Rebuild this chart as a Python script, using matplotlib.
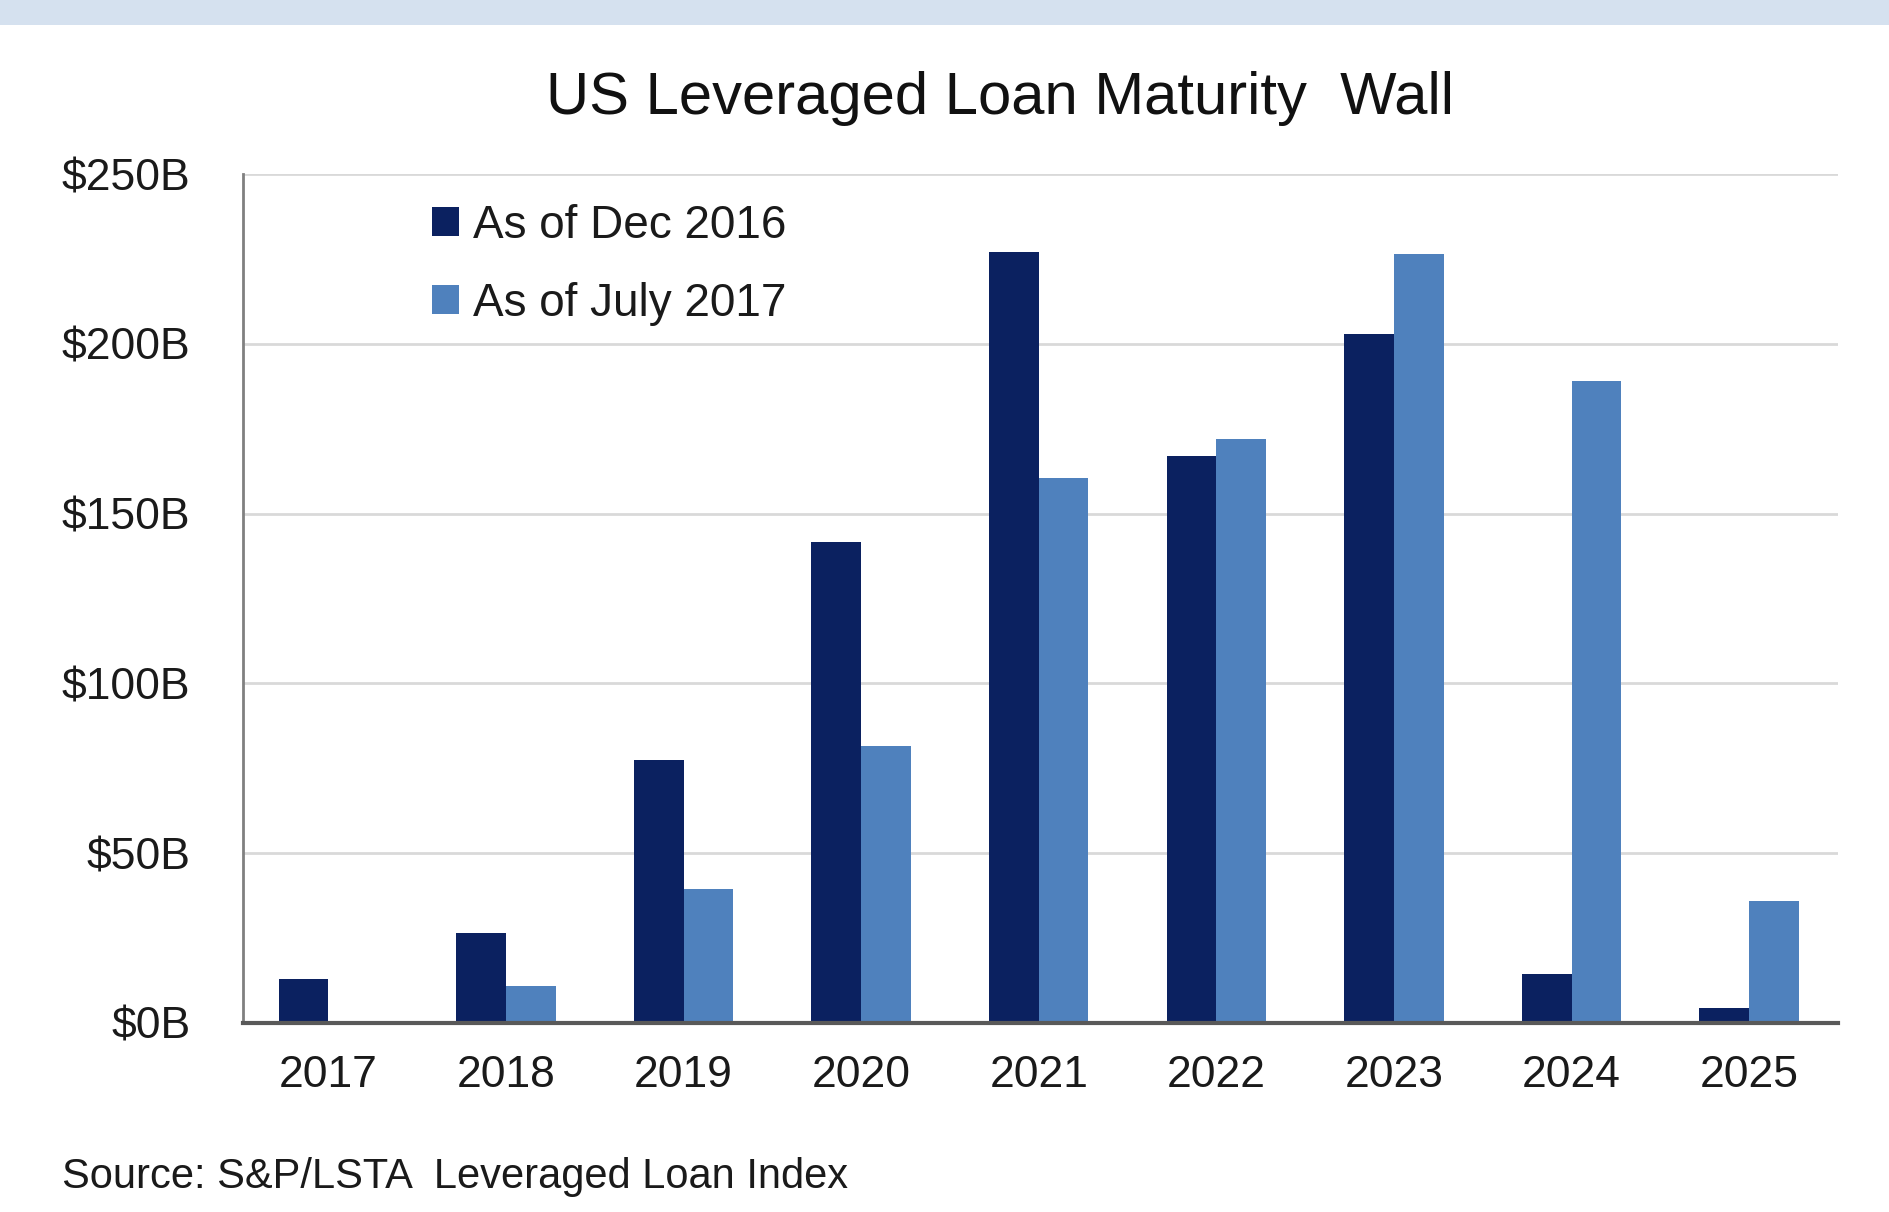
import numpy as np
import matplotlib.pyplot as plt
from matplotlib.patches import Rectangle

# Data
years = ['2017', '2018', '2019', '2020', '2021', '2022', '2023', '2024', '2025']
dec_2016 = [13, 26.5, 77.5, 141.5, 227, 167, 203, 14.5, 4.5]
july_2017 = [0, 11, 39.5, 81.5, 160.5, 172, 226.5, 189, 36]
series_labels = ['As of Dec 2016', 'As of July 2017']
yticks = [0, 50, 100, 150, 200, 250]
ytick_labels = ['$0B', '$50B', '$100B', '$150B', '$200B', '$250B']

dark = '#0B2160'
light = '#4F81BD'

plt.rcParams['font.family'] = ['Liberation Sans', 'DejaVu Sans']

fig = plt.figure(figsize=(18.9, 12.12), dpi=100)

# light blue band across the top
fig.patches.append(Rectangle((0, 1 - 25 / 1212), 1, 25 / 1212, transform=fig.transFigure,
                             facecolor='#D5E1EF', edgecolor='none', zorder=0))

ax = fig.add_axes([0.1286, 0.156, 0.8439, 0.7004])

x = np.arange(len(years))
w = 0.28
ax.bar(x - w / 2, dec_2016, w, color=dark, label=series_labels[0], zorder=3)
ax.bar(x + w / 2, july_2017, w, color=light, label=series_labels[1], zorder=3)

ax.set_xlim(-0.48, 8.5)
ax.set_ylim(0, 250)
ax.set_xticks(x)
ax.set_xticklabels(years)
ax.set_yticks(yticks)
ax.set_yticklabels(ytick_labels)
ax.tick_params(axis='both', length=0, labelsize=32, colors='#1a1a1a')
ax.tick_params(axis='y', pad=38)
ax.tick_params(axis='x', pad=23)

ax.grid(axis='y', color='#D9D9D9', linewidth=2, zorder=0)
for s in ['top', 'right']:
    ax.spines[s].set_visible(False)
ax.spines['left'].set_color('#808080')
ax.spines['left'].set_linewidth(2)
ax.spines['bottom'].set_color('#595959')
ax.spines['bottom'].set_linewidth(3)
ax.spines['bottom'].set_zorder(4)

ax.legend(loc='upper left', bbox_to_anchor=(0.104, 0.992), frameon=False, fontsize=33,
          handlelength=0.6, handleheight=0.6, handletextpad=0.3, labelspacing=0.74,
          borderpad=0, labelcolor='#1a1a1a')

fig.text(0.529, 0.919, 'US Leveraged Loan Maturity  Wall', ha='center', va='center',
         fontsize=43, color='#111111')
fig.text(0.033, 0.029, 'Source: S&P/LSTA  Leveraged Loan Index', ha='left', va='center',
         fontsize=30, color='#1a1a1a')

fig.savefig('out.png', dpi=100)
